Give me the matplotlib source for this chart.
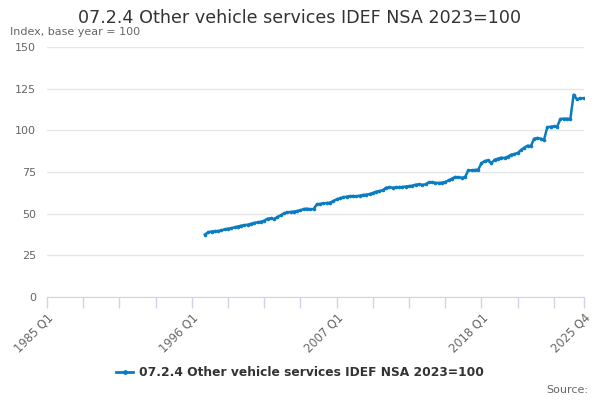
import numpy as np
import matplotlib
matplotlib.use("Agg")
import matplotlib.pyplot as plt
from matplotlib.lines import Line2D

# Categories: quarterly from 1985 Q1 to 2025 Q4
years = list(range(1985, 2026))
categories = [f"{y} Q{q}" for y in years for q in (1, 2, 3, 4)]

# Series values from 1997 Q1 to 2025 Q4 (earlier quarters have no data)
first_category = "1997 Q1"
values = [
    37.5, 38.8, 39.3, 39.5, 39.6, 40.0, 40.6, 41.0, 41.3, 41.8,
    42.3, 42.8, 43.1, 43.4, 43.9, 44.5, 44.8, 45.2, 45.8, 47.0,
    47.2, 46.8, 48.0, 49.0, 50.2, 50.8, 51.0, 51.3, 51.6, 52.0,
    52.8, 53.0, 52.6, 52.8, 55.6, 55.9, 56.2, 56.4, 56.6, 57.6,
    58.6, 59.2, 59.8, 60.2, 60.5, 60.6, 60.4, 60.8, 61.2, 61.4,
    61.8, 62.4, 63.2, 63.6, 64.0, 65.6, 65.8, 65.6, 65.8, 65.9,
    66.0, 66.3, 66.5, 66.8, 67.4, 67.6, 67.3, 67.6, 68.8, 68.9,
    68.5, 68.4, 68.6, 69.0, 70.0, 71.0, 72.0, 71.8, 71.6, 71.9,
    76.0, 76.0, 76.2, 76.4, 80.2, 81.6, 82.0, 80.3, 82.4, 83.0,
    83.6, 83.4, 84.2, 85.4, 85.8, 86.4, 88.2, 89.6, 90.8, 90.6,
    95.0, 95.4, 95.0, 94.4, 101.8, 102.2, 102.4, 102.3, 106.8, 107.0,
    107.0, 106.8, 121.4, 118.6, 119.2, 119.3,
]

tick_labels = ["1985 Q1", "1996 Q1", "2007 Q1", "2018 Q1", "2025 Q4"]
y_ticks = [0, 25, 50, 75, 100, 125, 150]

series_name = "07.2.4 Other vehicle services IDEF NSA 2023=100"
title = "07.2.4 Other vehicle services IDEF NSA 2023=100"
subtitle = "Index, base year = 100"
credit = "Source:"

line_color = "#0a7cc2"
grid_color = "#e6e6e6"
axis_color = "#ccd6eb"
text_gray = "#666666"

n = len(categories)
start = categories.index(first_category)
full = np.full(n, np.nan)
full[start:start + len(values)] = values
x = np.arange(n)

fig = plt.figure(figsize=(6, 4), dpi=100)
ax = fig.add_axes([47 / 600, 1 - 297 / 400, (583.5 - 47) / 600, (297 - 47) / 400])

ax.plot(x, full, color=line_color, lw=1.8, marker="o", ms=2.6,
        markeredgewidth=0, zorder=3)

ax.set_xlim(0, n - 1)
ax.set_ylim(0, 150)
ax.set_yticks(y_ticks)
ax.set_yticklabels([str(v) for v in y_ticks], color=text_gray, fontsize=8)
ax.grid(axis="y", color=grid_color, lw=1)
ax.set_axisbelow(True)
ax.tick_params(axis="y", length=0, pad=8)

# x ticks every 11 quarters plus last one
minor_pos = list(range(0, n, 11)) + [n - 1]
ax.set_xticks(minor_pos, minor=True)
major_pos = [categories.index(t) for t in tick_labels]
ax.set_xticks(major_pos)
ax.set_xticklabels(tick_labels, rotation=45, ha="right", rotation_mode="anchor",
                   color=text_gray, fontsize=8.3)
ax.tick_params(axis="x", which="both", length=8, color=axis_color, width=1, pad=2)

for s in ("top", "right", "left"):
    ax.spines[s].set_visible(False)
ax.spines["bottom"].set_color(axis_color)

fig.text(0.5, 1 - 18 / 400, title, ha="center", va="center", fontsize=12.6,
         color="#333333")
fig.text(10 / 600, 1 - 32 / 400, subtitle, ha="left", va="center", fontsize=8,
         color=text_gray)
fig.text(588 / 600, 1 - 390 / 400, credit, ha="right", va="center", fontsize=8,
         color=text_gray)

handle = Line2D([], [], color=line_color, lw=2, marker="o", ms=3.5,
                markeredgewidth=0)
leg = fig.legend([handle], [series_name], loc="center",
                 bbox_to_anchor=(0.5, 1 - 373 / 400), frameon=False,
                 prop={"weight": "bold", "size": 8.8}, handlelength=1.4,
                 handletextpad=0.5)
for t in leg.get_texts():
    t.set_color("#333333")

fig.savefig("out.png", dpi=100)
